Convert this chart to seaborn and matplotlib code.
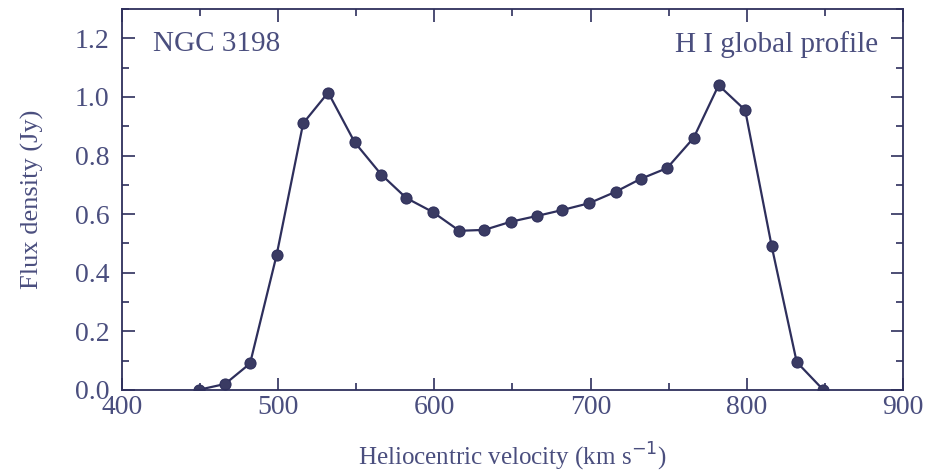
import numpy as np
import pandas as pd
import matplotlib
matplotlib.use("Agg")
import matplotlib.pyplot as plt
from matplotlib.ticker import MultipleLocator
import seaborn as sns

velocity = [449, 466, 482, 499, 516, 532, 549, 566, 582, 599, 616, 632, 649,
            666, 682, 699, 716, 732, 749, 766, 782, 799, 816, 832, 849]
flux = [0.00, 0.02, 0.09, 0.46, 0.91, 1.015, 0.845, 0.735, 0.655, 0.607, 0.543,
        0.546, 0.574, 0.594, 0.614, 0.637, 0.676, 0.72, 0.757, 0.86, 1.04, 0.955,
        0.49, 0.095, 0.00]

df = pd.DataFrame({"v": velocity, "S": flux})

sns.set_style("ticks")
plt.rcParams['font.family'] = ['Liberation Serif', 'DejaVu Serif']
ink = "#2e2f5c"
txt = "#4a4e7e"

fig = plt.figure(figsize=(9.42, 4.76), dpi=100)
ax = fig.add_axes([0.1295, 0.181, 0.829, 0.8])

sns.lineplot(data=df, x="v", y="S", ax=ax, color=ink, lw=1.6, marker="o",
             markersize=8, markerfacecolor="#3a3b63", markeredgecolor=ink)

ax.set_xlim(400, 900)
ax.set_ylim(0, 1.3)
ax.xaxis.set_major_locator(MultipleLocator(100))
ax.xaxis.set_minor_locator(MultipleLocator(50))
ax.yaxis.set_major_locator(MultipleLocator(0.2))
ax.yaxis.set_minor_locator(MultipleLocator(0.1))
ax.yaxis.set_major_formatter(plt.FormatStrFormatter("%.1f"))
ax.tick_params(which="both", direction="in", top=True, right=True,
               colors=ink, labelcolor=txt, labelsize=20, width=1.2)
ax.tick_params(which="major", length=9)
ax.tick_params(which="minor", length=5)
ax.tick_params(axis="x", pad=4)
ax.tick_params(axis="y", pad=9)
for s in ax.spines.values():
    s.set_color(ink)
    s.set_linewidth(1.3)

ax.set_xlabel("Heliocentric velocity (km s$^{-1}$)", fontsize=18, color=txt, labelpad=15)
ax.set_ylabel("Flux density (Jy)", fontsize=19, color=txt, labelpad=22)

ax.text(420, 1.18, "NGC 3198", fontsize=21, color=txt, va="center", ha="left")
ax.text(884, 1.18, "H I global profile", fontsize=21, color=txt, va="center", ha="right")

fig.savefig("out.png", dpi=100)
